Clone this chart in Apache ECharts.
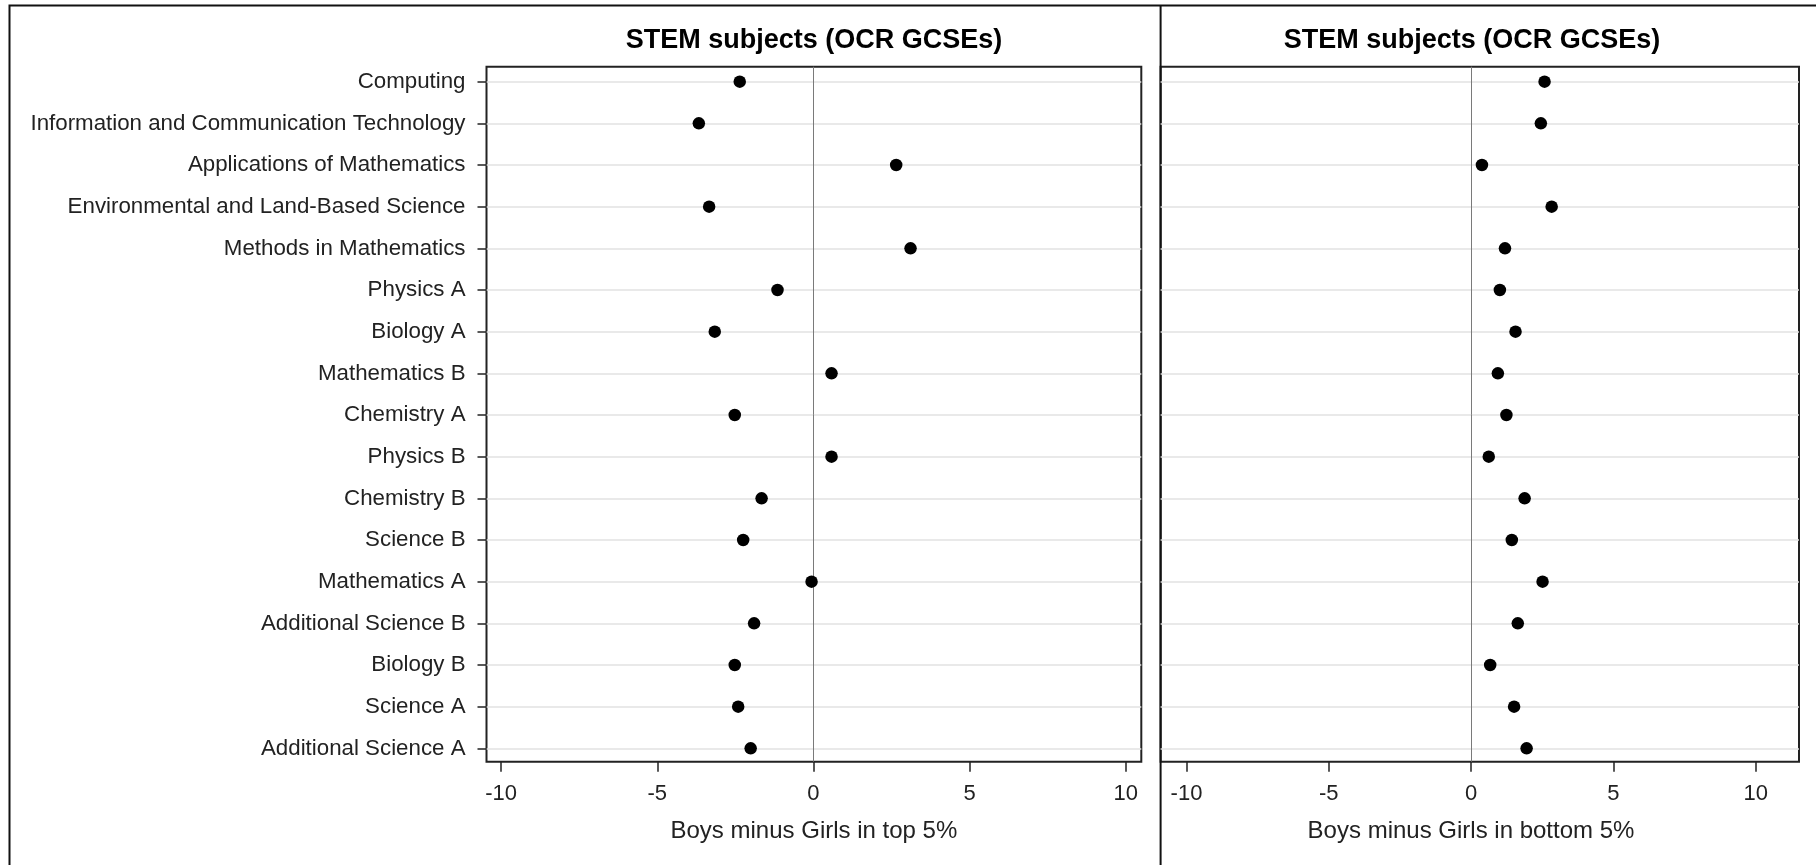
<!DOCTYPE html>
<html>
<head>
<meta charset="utf-8">
<script src="https://cdn.jsdelivr.net/npm/echarts@6/dist/echarts.min.js"></script>
<style>
html,body{margin:0;padding:0;background:#fff;}
#chart{width:1816px;height:865px;}
</style>
</head>
<body>
<div id="chart"></div>
<script>
const categories = [
  'Computing',
  'Information and Communication Technology',
  'Applications of Mathematics',
  'Environmental and Land-Based Science',
  'Methods in Mathematics',
  'Physics A',
  'Biology A',
  'Mathematics B',
  'Chemistry A',
  'Physics B',
  'Chemistry B',
  'Science B',
  'Mathematics A',
  'Additional Science B',
  'Biology B',
  'Science A',
  'Additional Science A'
];
const topValues = [-2.36, -3.67, 2.65, -3.34, 3.11, -1.15, -3.16, 0.58, -2.52, 0.58, -1.66, -2.25, -0.06, -1.90, -2.52, -2.41, -2.01];
const bottomValues = [2.58, 2.45, 0.38, 2.83, 1.19, 1.01, 1.56, 0.94, 1.24, 0.62, 1.88, 1.43, 2.51, 1.64, 0.67, 1.51, 1.95];
const xTicks = [-10, -5, 0, 5, 10];
const panelTitle = 'STEM subjects (OCR GCSEs)';
const xTitleTop = 'Boys minus Girls in top 5%';
const xTitleBottom = 'Boys minus Girls in bottom 5%';

const FONT = "'Liberation Sans', Arial, sans-serif";
const rowIdx = categories.map((c, i) => i);

const chart = echarts.init(document.getElementById('chart'), null, {renderer: 'canvas'});

function xAxisDef(gi, min, max, name, pad) {
  return {
    type: 'value', gridIndex: gi, min: min, max: max, position: 'bottom',
    name: name, nameLocation: 'middle', nameGap: 58,
    nameTextStyle: {fontFamily: FONT, fontSize: 24, color: '#222', padding: pad},
    axisLine: {show: false, onZero: false},
    axisTick: {show: true, length: 10, customValues: xTicks, lineStyle: {color: '#222', width: 1.5}},
    axisLabel: {show: true, customValues: xTicks, margin: 21, fontFamily: FONT, fontSize: 22, color: '#222'},
    splitLine: {show: false}
  };
}
function yAxisDef(gi, showLabels) {
  return {
    type: 'value', gridIndex: gi, inverse: true, min: -0.36, max: 16.32, position: 'left',
    axisLine: {show: false, onZero: false},
    axisTick: {show: showLabels, length: 9, customValues: rowIdx, lineStyle: {color: '#222', width: 1.5}},
    axisLabel: {show: showLabels, customValues: rowIdx, margin: 21, fontFamily: FONT, fontSize: 22.3, color: '#222',
      formatter: v => categories[Math.round(v)] || ''},
    splitLine: {show: true, lineStyle: {color: '#e2e2e2', width: 1.5}}
  };
}
function dotSeries(gi, vals) {
  return {
    type: 'scatter', xAxisIndex: gi, yAxisIndex: gi,
    symbol: 'circle', symbolSize: 12.5,
    itemStyle: {color: '#000', opacity: 1},
    data: vals.map((v, i) => [v, i]),
    markLine: {
      silent: true, symbol: 'none', label: {show: false},
      lineStyle: {color: '#7a7a7a', width: 1, type: 'solid', opacity: 1},
      data: [{xAxis: 0}]
    },
    z: 5
  };
}

const option = {
  animation: false,
  backgroundColor: '#fff',
  grid: [
    {left: 486.5, top: 66.7, width: 654.8, height: 695, show: true, borderColor: '#222', borderWidth: 2, containLabel: false},
    {left: 1160.6, top: 66.7, width: 638.4, height: 695, show: true, borderColor: '#222', borderWidth: 2, containLabel: false}
  ],
  xAxis: [
    xAxisDef(0, -10.47, 10.5, xTitleTop, [0, 0, 0, 0]),
    xAxisDef(1, -10.91, 11.52, xTitleBottom, [0, 17.6, 0, 0])
  ],
  yAxis: [yAxisDef(0, true), yAxisDef(1, false)],
  series: [dotSeries(0, topValues), dotSeries(1, bottomValues)],
  graphic: [
    {type: 'rect', silent: true, shape: {x: 9.5, y: 5.5, width: 1900, height: 1000},
      style: {fill: 'none', stroke: '#111', lineWidth: 2}},
    {type: 'line', silent: true, shape: {x1: 1160.6, y1: 5, x2: 1160.6, y2: 865},
      style: {stroke: '#111', lineWidth: 2}},
    {type: 'text', silent: true, x: 814, y: 40.5,
      style: {text: panelTitle, textAlign: 'center', textVerticalAlign: 'middle', font: "bold 27px 'Liberation Sans', Arial, sans-serif", fill: '#000'}},
    {type: 'text', silent: true, x: 1472, y: 40.5,
      style: {text: panelTitle, textAlign: 'center', textVerticalAlign: 'middle', font: "bold 27px 'Liberation Sans', Arial, sans-serif", fill: '#000'}}
  ]
};
chart.setOption(option);
</script>
</body>
</html>
